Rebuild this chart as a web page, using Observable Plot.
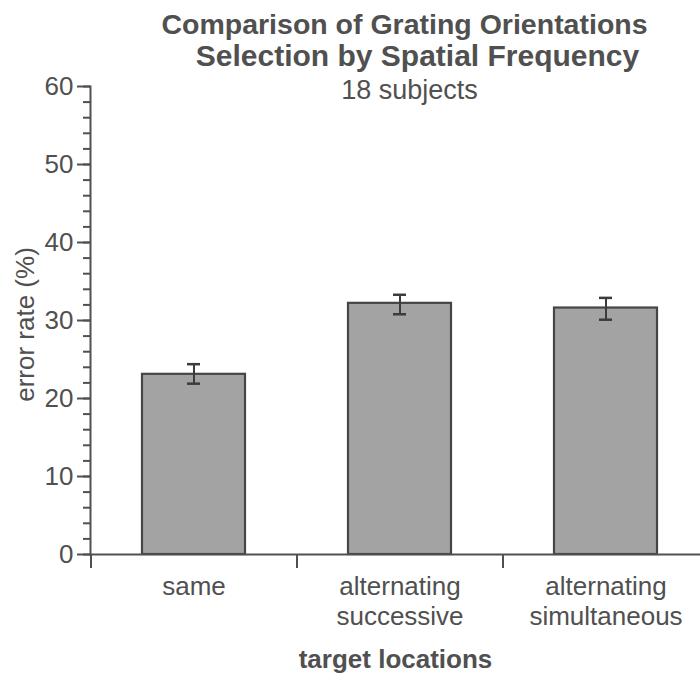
<!DOCTYPE html>
<html><head><meta charset="utf-8">
<script src="https://cdn.jsdelivr.net/npm/d3@7"></script>
<script src="https://cdn.jsdelivr.net/npm/@observablehq/plot@0.6"></script>
<style>body{margin:0;background:#fff}</style>
</head><body><div id="chart"></div>
<script>
const categories = ["same", "alternating\nsuccessive", "alternating\nsimultaneous"];
const errorRate = [23.1, 32.2, 31.6];
const errorLow = [21.9, 30.8, 30.1];
const errorHigh = [24.4, 33.3, 32.9];
const majorTicks = [0, 10, 20, 30, 40, 50, 60];
const minorTicks = [0, 2, 4, 6, 8, 10, 12, 14, 16, 18, 20, 22, 24, 26, 28, 30, 32, 34, 36, 38, 40, 42, 44, 46, 48, 50, 52, 54, 56, 58, 60];
const titleLine1 = "Comparison of Grating Orientations";
const titleLine2 = "Selection by Spatial Frequency";
const subtitle = "18 subjects";
const xLabel = "target locations";
const yLabel = "error rate (%)";

const data = categories.map((c, i) => ({cat: c, value: errorRate[i], lo: errorLow[i], hi: errorHigh[i]}));

const ink = "#505050";
const barStroke = "#454545";
const font = "'Liberation Sans', Arial, Helvetica, sans-serif";

const chart = Plot.plot({
  width: 700,
  height: 676,
  marginTop: 86,
  marginBottom: 122,
  marginLeft: 90,
  marginRight: 0,
  style: {fontFamily: font, fontSize: "26px", color: ink, background: "#fff", overflow: "visible"},
  x: {domain: categories, range: [90, 708], paddingInner: 0.5, paddingOuter: 0.25, align: 0.5, axis: null},
  y: {domain: [0, 60], axis: null},
  marks: [
    Plot.barY(data, {x: "cat", y: "value", fill: "#a3a3a3", stroke: barStroke, strokeWidth: 2.2}),
    Plot.ruleX(data, {x: "cat", y1: "lo", y2: "hi", stroke: "#3c3c3c", strokeWidth: 2}),
    Plot.tickY(data, {x: "cat", y: "lo", stroke: "#3c3c3c", strokeWidth: 2.5, insetLeft: 45, insetRight: 45}),
    Plot.tickY(data, {x: "cat", y: "hi", stroke: "#3c3c3c", strokeWidth: 2.5, insetLeft: 45, insetRight: 45}),
    Plot.axisY({ticks: majorTicks, tickSize: 13, tickPadding: 4, fontSize: 26, stroke: ink, strokeWidth: 2, fill: ink, label: null}),
    Plot.axisY({ticks: minorTicks, tickSize: 7, tickFormat: () => "", stroke: ink, strokeWidth: 2, label: null}),
    Plot.axisX({tickSize: 14, tickFormat: () => "", dx: -103, stroke: ink, strokeWidth: 2, label: null}),
    Plot.axisX({tickSize: 0, tickPadding: 19.5, fontSize: 26, lineHeight: 1.15, fill: ink, label: null}),
    Plot.frame({anchor: "left", stroke: ink, strokeWidth: 2}),
    Plot.ruleY([0], {stroke: ink, strokeWidth: 2}),
    Plot.text([titleLine1], {frameAnchor: "top", lineAnchor: "bottom", dy: -53, dx: 9, fontSize: 28.5, fontWeight: "bold", fill: ink}),
    Plot.text([titleLine2], {frameAnchor: "top", lineAnchor: "bottom", dy: -21, dx: 22, fontSize: 30, fontWeight: "bold", fill: ink}),
    Plot.text([subtitle], {frameAnchor: "top", lineAnchor: "bottom", dy: 12, dx: 14, fontSize: 27, fill: ink}),
    Plot.text([yLabel], {frameAnchor: "left", textAnchor: "middle", lineAnchor: "middle", rotate: -90, dx: -65, dy: 4, fontSize: 26, fill: ink}),
    Plot.text([xLabel], {frameAnchor: "bottom", textAnchor: "middle", lineAnchor: "bottom", dy: 113, fontSize: 26, fontWeight: "bold", fill: ink})
  ]
});
document.getElementById("chart").appendChild(chart);
</script>
</body></html>
